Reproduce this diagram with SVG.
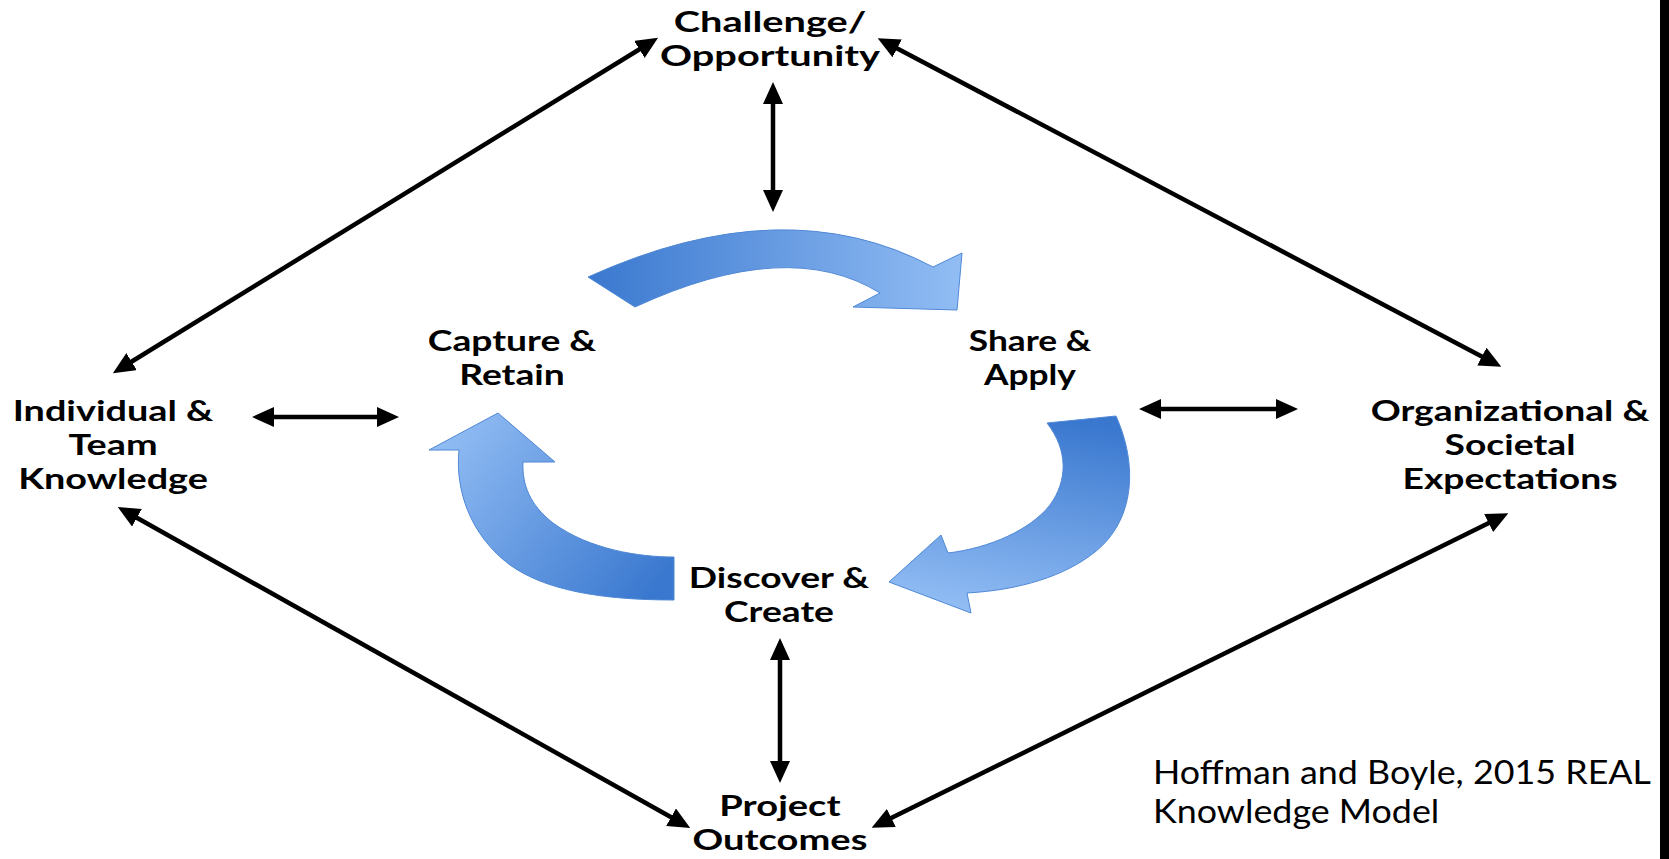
<svg xmlns="http://www.w3.org/2000/svg" width="1669" height="859" viewBox="0 0 1669 859">
  <defs>
    <marker id="head" markerUnits="userSpaceOnUse" markerWidth="22" markerHeight="20" refX="16" refY="10" orient="auto-start-reverse">
      <path d="M0,0 L22,10 L0,20 Z" fill="#000"/>
    </marker>
    <linearGradient id="gTop" x1="0" y1="0" x2="1" y2="0">
      <stop offset="0" stop-color="#3a78cf"/>
      <stop offset="1" stop-color="#92bdf4"/>
    </linearGradient>
    <linearGradient id="gRight" x1="0.6" y1="0" x2="0.4" y2="1">
      <stop offset="0" stop-color="#3a78cf"/>
      <stop offset="1" stop-color="#92bdf4"/>
    </linearGradient>
    <linearGradient id="gLeft" x1="1" y1="0.8" x2="0" y2="0.2">
      <stop offset="0" stop-color="#3a78cf"/>
      <stop offset="1" stop-color="#92bdf4"/>
    </linearGradient>
  </defs>
  <style>
    .lbl { font-family: Lato, "Open Sans", "Liberation Sans", sans-serif; font-weight: 700; font-size: 28px; fill: #000; text-anchor: middle; }
    .cap { font-family: Lato, "Open Sans", "Liberation Sans", sans-serif; font-weight: 400; font-size: 32px; fill: #000; }
    .link { stroke: #000; stroke-width: 4.5; fill: none; marker-start: url(#head); marker-end: url(#head); }
    .cycle { stroke: #4f88d6; stroke-width: 1; }
  </style>

  <rect width="1669" height="859" fill="#fff"/>
  <rect x="1660" y="0" width="9" height="859" fill="#000"/>

  <!-- knowledge cycle arrows -->
  <g id="cycle">
    <path class="cycle" fill="url(#gTop)" d="M588,277 Q785,188 933,267 L962,253 L957,310 L853,307 L880,293 Q788,236 635,307 Z"/>
    <path class="cycle" fill="url(#gRight)" d="M1047,423 L1116,416 C1138,465 1135,520 1095,552 C1065,576 1020,590 967,593 L971,613 L889,582 L941,535 L948,553 C990,548 1030,530 1050,505 C1068,480 1068,450 1047,423 Z"/>
    <path class="cycle" fill="url(#gLeft)" d="M674,600 L674,557 C640,557 590,550 553,523 C530,505 522,485 523,462 L555,462 L498,413 L429,450 L459,450 C455,490 470,535 510,565 C545,590 600,600 674,600 Z"/>
  </g>

  <!-- two-way connectors -->
  <g id="connectors">
    <line class="link" x1="773" y1="88" x2="773" y2="206"/>
    <line class="link" x1="653" y1="41" x2="118" y2="370"/>
    <line class="link" x1="883" y1="41" x2="1496" y2="364"/>
    <line class="link" x1="123" y1="510" x2="685" y2="825"/>
    <line class="link" x1="1503" y1="516" x2="877" y2="825"/>
    <line class="link" x1="258" y1="417" x2="393" y2="417"/>
    <line class="link" x1="1145" y1="409" x2="1292" y2="409"/>
    <line class="link" x1="780" y1="644" x2="780" y2="777"/>
  </g>

  <g id="challenge" transform="translate(770 0) scale(1.42 1)">
    <text class="lbl" x="0" y="32">Challenge/</text>
    <text class="lbl" x="0" y="66">Opportunity</text>
  </g>
  <g id="capture" transform="translate(512 0) scale(1.33 1)">
    <text class="lbl" x="0" y="351">Capture &amp;</text>
    <text class="lbl" x="0" y="385">Retain</text>
  </g>
  <g id="share" transform="translate(1030 0) scale(1.26 1)">
    <text class="lbl" x="0" y="351">Share &amp;</text>
    <text class="lbl" x="0" y="385">Apply</text>
  </g>
  <g id="individual" transform="translate(113 0) scale(1.35 1)">
    <text class="lbl" x="0" y="421">Individual &amp;</text>
    <text class="lbl" x="0" y="455">Team</text>
    <text class="lbl" x="0" y="489">Knowledge</text>
  </g>
  <g id="organizational" transform="translate(1510 0) scale(1.33 1)">
    <text class="lbl" x="0" y="421">Organizational &amp;</text>
    <text class="lbl" x="0" y="455">Societal</text>
    <text class="lbl" x="0" y="489">Expectations</text>
  </g>
  <g id="discover" transform="translate(779 0) scale(1.33 1)">
    <text class="lbl" x="0" y="588">Discover &amp;</text>
    <text class="lbl" x="0" y="622">Create</text>
  </g>
  <g id="outcomes" transform="translate(780 0) scale(1.36 1)">
    <text class="lbl" x="0" y="816">Project</text>
    <text class="lbl" x="0" y="850">Outcomes</text>
  </g>
  <g id="citation" transform="translate(1153 0) scale(1.12 1)">
    <text class="cap" x="0" y="784">Hoffman and Boyle, 2015 REAL</text>
    <text class="cap" x="0" y="823">Knowledge Model</text>
  </g>
</svg>
